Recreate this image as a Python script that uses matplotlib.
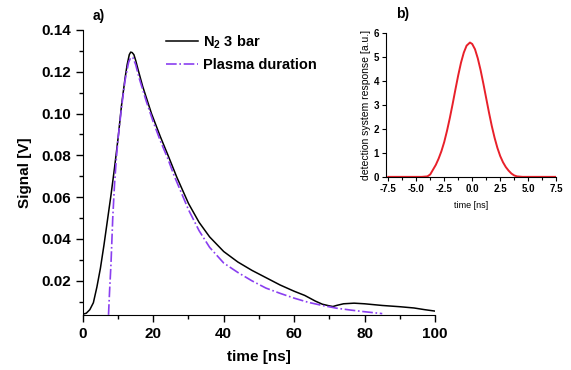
import numpy as np
import matplotlib
matplotlib.use("Agg")
import matplotlib.pyplot as plt
from matplotlib.ticker import MultipleLocator, FormatStrFormatter

plt.rcParams['font.family'] = ['Liberation Sans', 'DejaVu Sans']
plt.rcParams['mathtext.fontset'] = 'custom'
plt.rcParams['mathtext.rm'] = 'Liberation Sans'
plt.rcParams['mathtext.bf'] = 'Liberation Sans:bold'

# panel a) measured signal, N2 at 3 bar
t_signal = [0, 1, 2, 3, 4, 5, 6, 7, 8, 9, 10, 11, 12, 12.6, 13.2, 13.6, 14.0,
            14.5, 15.0, 15.7, 17, 19.5, 22, 24.2, 26.7, 30, 33, 36, 40, 44, 48,
            52, 56, 60, 63, 66, 68, 70, 71, 72, 74, 77, 80, 85, 90, 94, 97, 100]
v_signal = [0.0040, 0.0045, 0.0062, 0.0095, 0.017, 0.026, 0.037, 0.049, 0.061,
            0.074, 0.088, 0.104, 0.117, 0.1235, 0.1282, 0.1294, 0.1292,
            0.1282, 0.1255, 0.121, 0.113, 0.100, 0.089, 0.080, 0.0695, 0.057,
            0.048, 0.041, 0.034, 0.029, 0.025, 0.0215, 0.018, 0.015, 0.013,
            0.0103, 0.0088, 0.0080, 0.0077, 0.0082, 0.0090, 0.0093, 0.0090,
            0.0082, 0.0076, 0.0070, 0.0062, 0.0055]

# panel a) plasma duration
t_plasma = [7.3, 7.6, 8.0, 8.5, 9.0, 9.5, 10, 11, 12, 13, 13.6, 14.2, 15, 16,
            18, 20, 22, 24, 26, 28, 30, 33, 36, 40, 44, 48, 52, 56, 60, 64, 68,
            72, 76, 80, 85]
v_plasma = [0.0037, 0.015, 0.028, 0.050, 0.066, 0.078, 0.088, 0.103, 0.116,
            0.1245, 0.1268, 0.1268, 0.1235, 0.117, 0.106, 0.096, 0.087, 0.079,
            0.070, 0.062, 0.054, 0.044, 0.036, 0.0285, 0.024, 0.020, 0.0165,
            0.014, 0.0117, 0.0097, 0.0082, 0.0069, 0.0060, 0.0052, 0.0043]

# panel b) detection system response
t_resp = [-7.5, -4.5, -4.0, -3.75, -3.5, -3.25, -3.0, -2.75, -2.5, -2.25, -2.0,
          -1.75, -1.5, -1.25, -1.0, -0.75, -0.5, -0.2, 0.0, 0.25, 0.5, 0.75,
          1.0, 1.25, 1.5, 1.75, 2.0, 2.25, 2.5, 2.75, 3.0, 3.25, 3.5, 3.75,
          4.0, 4.5, 7.5]
r_resp = [0, 0, 0.02, 0.10, 0.30, 0.50, 0.76, 1.07, 1.45, 1.92, 2.45, 3.03,
          3.64, 4.23, 4.76, 5.18, 5.47, 5.60, 5.54, 5.32, 4.94, 4.45, 3.88,
          3.28, 2.68, 2.12, 1.63, 1.21, 0.87, 0.61, 0.41, 0.26, 0.14, 0.06,
          0.02, 0, 0]

fig = plt.figure(figsize=(5.71, 3.70), dpi=100)

ax = fig.add_axes([0.145, 0.149, 0.617, 0.770])
ax.plot(t_signal, v_signal, color='black', lw=1.1, label=r'N$_\mathbf{2}$ 3 bar')
ax.plot(t_plasma, v_plasma, color='#8a3ff0', lw=1.2, ls='-.', label='Plasma duration')
ax.set_xlim(0, 100)
ax.set_ylim(0.0037, 0.14)
ax.xaxis.set_major_locator(MultipleLocator(20))
ax.xaxis.set_minor_locator(MultipleLocator(10))
ax.yaxis.set_major_locator(MultipleLocator(0.02))
ax.yaxis.set_minor_locator(MultipleLocator(0.01))
ax.yaxis.set_major_formatter(FormatStrFormatter('%.2f'))
ax.spines['top'].set_visible(False)
ax.spines['right'].set_visible(False)
ax.tick_params(which='major', length=5, width=1, labelsize=11)
ax.tick_params(which='minor', length=3, width=1)
for lab in ax.get_xticklabels() + ax.get_yticklabels():
    lab.set_fontweight('bold')
ax.set_xlabel('time [ns]', fontsize=11, fontweight='bold', labelpad=7)
ax.set_ylabel('Signal [V]', fontsize=11, fontweight='bold', labelpad=7)
leg = ax.legend(loc='upper left', bbox_to_anchor=(0.2, 1.035), frameon=False,
                handlelength=2.2, handletextpad=0.3, labelspacing=0.5,
                prop={'weight': 'bold', 'size': 10.5})
fig.text(0.162, 0.958, 'a)', fontsize=10, fontweight='bold', va='center')

ins = fig.add_axes([0.676, 0.522, 0.298, 0.389])
ins.plot(t_resp, r_resp, color='#e8202a', lw=1.4)
ins.set_xlim(-7.7, 7.5)
ins.set_ylim(0, 6)
ins.xaxis.set_major_locator(MultipleLocator(2.5))
ins.xaxis.set_minor_locator(MultipleLocator(1.25))
ins.yaxis.set_major_locator(MultipleLocator(1))
ins.xaxis.set_major_formatter(FormatStrFormatter('%.1f'))
ins.spines['top'].set_visible(False)
ins.spines['right'].set_visible(False)
for s in ins.spines.values():
    s.set_linewidth(0.8)
ins.tick_params(which='major', length=3, width=0.8, labelsize=7, pad=2)
ins.tick_params(which='minor', length=2, width=0.8)
for lab in ins.get_xticklabels() + ins.get_yticklabels():
    lab.set_fontweight('bold')
ins.set_xlabel('time [ns]', fontsize=6.5, labelpad=5)
ins.set_ylabel('detection system response [a.u.]', fontsize=7.5, labelpad=2)
fig.text(0.694, 0.963, 'b)', fontsize=10, fontweight='bold', va='center')

fig.savefig('out.png', dpi=100)
